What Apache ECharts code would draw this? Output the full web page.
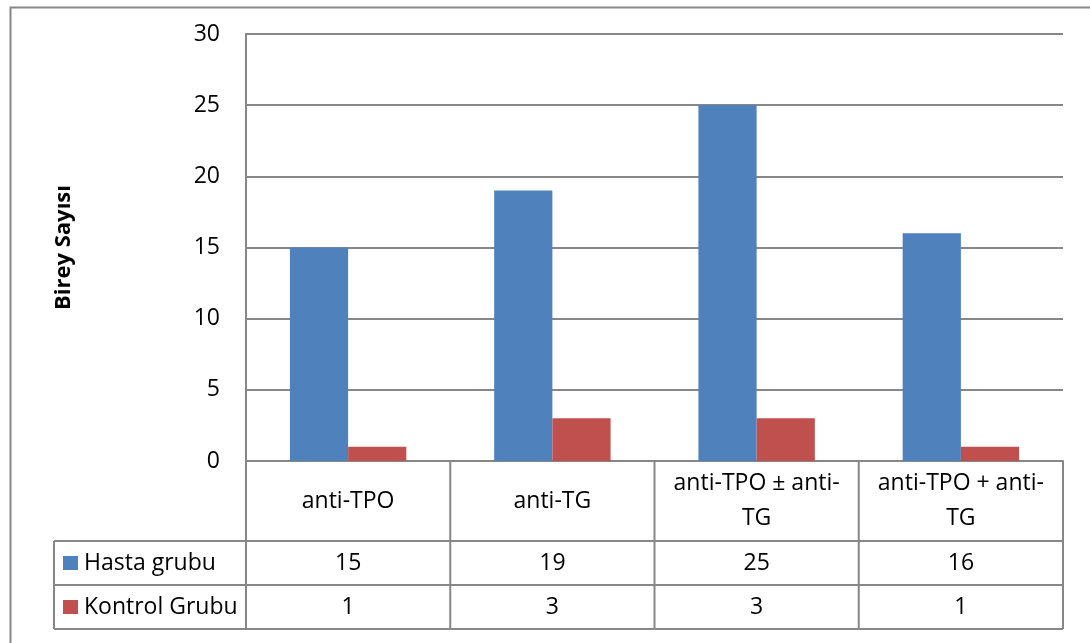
<!DOCTYPE html>
<html>
<head>
<meta charset="utf-8">
<script src="https://cdn.jsdelivr.net/npm/echarts@6/dist/echarts.min.js"></script>
<style>
  html, body { margin: 0; padding: 0; background: #ffffff; }
  #chart { width: 1090px; height: 643px; }
</style>
</head>
<body>
<div id="chart"></div>
<script>
// Antibody groups and counts per group
const categories = ['anti-TPO', 'anti-TG', 'anti-TPO ± anti-TG', 'anti-TPO + anti-TG'];
const seriesNames = ['Hasta grubu', 'Kontrol Grubu'];
const hasta = [15, 19, 25, 16];
const kontrol = [1, 3, 3, 1];
const yMin = 0, yMax = 30, yStep = 5;
const yTitle = 'Birey Sayısı';

const colors = ['#4F81BD', '#C0504D'];
const lineColor = '#878787';
const font = '"Open Sans", "Noto Sans", sans-serif';
const fontSize = 23;

// data table rows under the plot: category row, then one row per series
const rowH = [80, 44, 44];
const keyColW = 192;

// wrap a label inside a cell, breaking after spaces or hyphens
const measureCtx = document.createElement('canvas').getContext('2d');
function wrapLabel(s, maxW) {
  measureCtx.font = fontSize + 'px ' + font;
  const tokens = s.match(/[^\s-]*[\s-]?/g).filter(t => t.length);
  const lines = [];
  let cur = '';
  tokens.forEach(t => {
    const next = cur + t;
    if (cur && measureCtx.measureText(next.trimEnd()).width > maxW) {
      lines.push(cur.trimEnd());
      cur = t;
    } else {
      cur = next;
    }
  });
  if (cur) lines.push(cur.trimEnd());
  return lines.join('\n');
}

function renderTable(params, api) {
  const i = api.value(0);
  const base = api.coord([i, 0]);
  const w = api.size([1, 0])[0];
  const cx = base[0], y0 = base[1];
  const xl = cx - w / 2, xr = cx + w / 2;
  const y1 = y0 + rowH[0], y2 = y1 + rowH[1], y3 = y2 + rowH[2];
  const ls = { stroke: lineColor, lineWidth: 2 };
  const line = (x1, ya, x2, yb) => ({ type: 'line', shape: { x1: x1, y1: ya, x2: x2, y2: yb }, style: ls, z2: 5 });
  const text = (s, x, y) => ({
    type: 'text',
    style: { text: s, x: x, y: y, align: 'center', verticalAlign: 'middle', fill: '#000', font: fontSize + 'px ' + font, lineHeight: 35 }
  });
  const ch = [
    line(xr, y0, xr, y3),
    line(xl, y1, xr, y1),
    line(xl, y2, xr, y2),
    line(xl, y3, xr, y3),
    text(wrapLabel(categories[i], w - 14), cx, (y0 + y1) / 2),
    text(String(api.value(1)), cx, (y1 + y2) / 2),
    text(String(api.value(2)), cx, (y2 + y3) / 2)
  ];
  if (i === 0) {
    const kl = xl - keyColW;
    ch.push(line(xl, y0, xl, y3));
    ch.push(line(kl, y1, xl, y1));
    ch.push(line(kl, y2, xl, y2));
    ch.push(line(kl, y3, xl, y3));
    ch.push(line(kl, y1, kl, y3));
    [[y1, y2], [y2, y3]].forEach((r, k) => {
      const my = (r[0] + r[1]) / 2;
      ch.push({ type: 'rect', shape: { x: kl + 9, y: my - 7, width: 15, height: 14 }, style: { fill: colors[k] } });
      ch.push({ type: 'text', style: { text: seriesNames[k], x: kl + 30, y: my, align: 'left', verticalAlign: 'middle', fill: '#000', font: fontSize + 'px ' + font } });
    });
  }
  return { type: 'group', children: ch };
}

const chart = echarts.init(document.getElementById('chart'), null, { renderer: 'canvas' });
chart.setOption({
  animation: false,
  backgroundColor: '#ffffff',
  textStyle: { fontFamily: font },
  graphic: [{
    type: 'rect', left: 8, top: 5, shape: { width: 1100, height: 700 },
    style: { fill: 'none', stroke: lineColor, lineWidth: 2 }, z: 100
  }],
  grid: { left: 246, right: 27, top: 34, bottom: 182, containLabel: false },
  xAxis: {
    type: 'category', data: categories,
    axisLine: { show: true, lineStyle: { color: lineColor, width: 2 } },
    axisTick: { show: false }, axisLabel: { show: false }, splitLine: { show: false }
  },
  yAxis: {
    type: 'value', min: yMin, max: yMax, interval: yStep,
    name: yTitle, nameLocation: 'middle', nameGap: 171, nameRotate: 90,
    nameTextStyle: { fontSize: 22, fontWeight: 'bold', color: '#000', fontFamily: font },
    axisLine: { show: true, lineStyle: { color: lineColor, width: 2 } },
    axisTick: { show: false },
    axisLabel: { color: '#000', fontSize: fontSize, margin: 26, fontFamily: font },
    splitLine: { show: true, lineStyle: { color: lineColor, width: 2 } }
  },
  series: [
    { name: seriesNames[0], type: 'bar', data: hasta, barGap: '0%', barCategoryGap: '43%', itemStyle: { color: colors[0] } },
    { name: seriesNames[1], type: 'bar', data: kontrol, barGap: '0%', barCategoryGap: '43%', itemStyle: { color: colors[1] } },
    {
      type: 'custom', renderItem: renderTable, clip: false, silent: true,
      data: categories.map((c, i) => [i, hasta[i], kontrol[i]]),
      encode: { x: 0, y: 1 }, z: 10
    }
  ]
});
</script>
</body>
</html>
